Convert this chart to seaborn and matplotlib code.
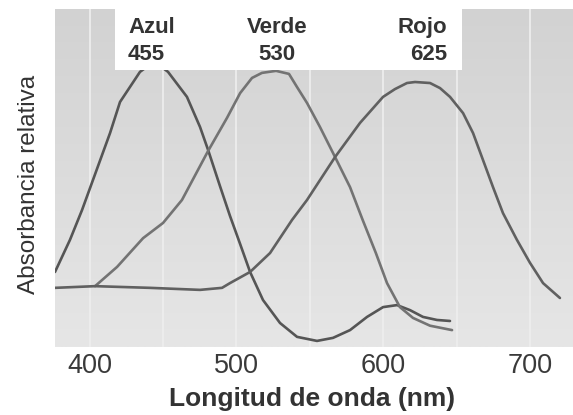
import numpy as np
import pandas as pd
import matplotlib
matplotlib.use("Agg")
import matplotlib.pyplot as plt
from matplotlib.colors import LinearSegmentedColormap
from matplotlib.patches import Rectangle
import seaborn as sns

# ---- data ----
blue_nm = [376.4, 386.6, 394.8, 413.9, 420.7, 434.3, 444.0, 453.4, 466.3, 475.2,
           480.7, 488.8, 495.6, 502.5, 509.3, 518.1, 529.7, 541.3, 554.9, 565.8,
           577.4, 589.0, 599.9, 609.4, 618.3, 627.1, 636.6, 645.5]
blue_abs = [22.2, 31.7, 40.5, 63.3, 72.5, 81.4, 84.5, 81.4, 74.0, 65.1,
            58.3, 47.6, 38.8, 30.5, 22.2, 13.9, 7.1, 3.0, 1.8, 2.7,
            5.0, 8.9, 11.8, 12.4, 10.9, 8.9, 8.0, 7.7]

green_nm = [403.7, 418.7, 436.4, 450.0, 462.9, 480.7, 493.6, 502.5, 510.6, 517.4,
            527.0, 535.8, 541.3, 548.1, 556.9, 567.2, 577.4, 586.0, 595.0, 602.6,
            611.4, 620.3, 631.9, 646.9]
green_abs = [18.0, 23.7, 32.2, 36.7, 43.5, 58.0, 67.8, 75.1, 79.6, 81.1,
             81.7, 80.8, 76.9, 72.2, 65.1, 56.2, 47.3, 37.6, 27.8, 18.9,
             11.8, 8.6, 6.3, 5.0]

red_nm = [376.4, 403.7, 441.1, 475.2, 490.2, 495.6, 509.3, 522.9, 537.9, 548.1,
          567.2, 584.2, 599.9, 608.0, 616.2, 621.7, 631.9, 638.7, 645.5, 654.4,
          661.2, 668.0, 674.8, 681.6, 691.1, 700.0, 708.9, 720.4]
red_abs = [17.5, 18.0, 17.5, 16.9, 17.5, 18.9, 22.2, 27.8, 37.6, 43.5,
           56.2, 66.3, 74.0, 76.3, 78.1, 78.4, 78.1, 76.6, 74.0, 69.2,
           63.3, 55.3, 47.3, 39.6, 31.7, 24.9, 18.9, 14.5]

cone_names = ["Azul", "Verde", "Rojo"]
cone_peaks = ["455", "530", "625"]

x_ticks = [400, 500, 600, 700]
x_grid = [400, 450, 500, 550, 600, 650, 700]

# ---- figure ----
sns.set_style("white")
plt.rcParams['font.family'] = ['Liberation Sans', 'DejaVu Sans']

fig = plt.figure(figsize=(5.73, 4.15), dpi=100)
ax = fig.add_axes([55/573, 68/415, 518/573, 338/415])

XMIN, XMAX = 376.4, 729.3
YMIN, YMAX = 0, 100

# gradient background (darker at top)
grad = np.linspace(0, 1, 256).reshape(-1, 1)
cmap = LinearSegmentedColormap.from_list("bg", ["#d2d2d2", "#e6e6e6"])
ax.imshow(grad, extent=[XMIN, XMAX, YMIN, YMAX], aspect="auto", cmap=cmap,
          origin="upper", zorder=0, interpolation="bilinear")

for g in x_grid:
    ax.axvline(g, color="#ededed", lw=1.3, zorder=1)

line_kw = dict(linewidth=1.9, zorder=3, sort=False, estimator=None)
sns.lineplot(x=blue_nm, y=blue_abs, color="#555555", ax=ax, **line_kw)
sns.lineplot(x=green_nm, y=green_abs, color="#737373", ax=ax, **line_kw)
sns.lineplot(x=red_nm, y=red_abs, color="#606060", ax=ax, **line_kw)

# white label box
ax.add_patch(Rectangle((417.3, 82.0), 653.7 - 417.3, YMAX - 82.0,
                       facecolor="white", edgecolor="none", zorder=4))

txt_kw = dict(fontsize=16, fontweight="bold", color="#333333", zorder=5,
              va="baseline")
positions = [(426.2, "left"), (527.7, "center"), (643.5, "right")]
for (xpos, ha), name, pk in zip(positions, cone_names, cone_peaks):
    ax.text(xpos, 92.9, name, ha=ha, **txt_kw)
    ax.text(xpos, 84.9, pk, ha=ha, **txt_kw)

ax.set_xlim(XMIN, XMAX)
ax.set_ylim(YMIN, YMAX)
ax.set_xticks(x_ticks)
ax.set_xticklabels([str(t) for t in x_ticks])
ax.set_yticks([])
ax.tick_params(axis="x", length=0, pad=4, labelsize=19.5, labelcolor="#3a3a3a")
for s in ax.spines.values():
    s.set_visible(False)

ax.set_xlabel("Longitud de onda (nm)", fontsize=19, fontweight="bold",
              color="#333333")
ax.xaxis.set_label_coords(0.496, -0.118)
ax.set_ylabel("Absorbancia relativa", fontsize=17.5, color="#333333")
ax.yaxis.set_label_coords(-0.028, 0.481)

fig.savefig("out.png", dpi=100)
